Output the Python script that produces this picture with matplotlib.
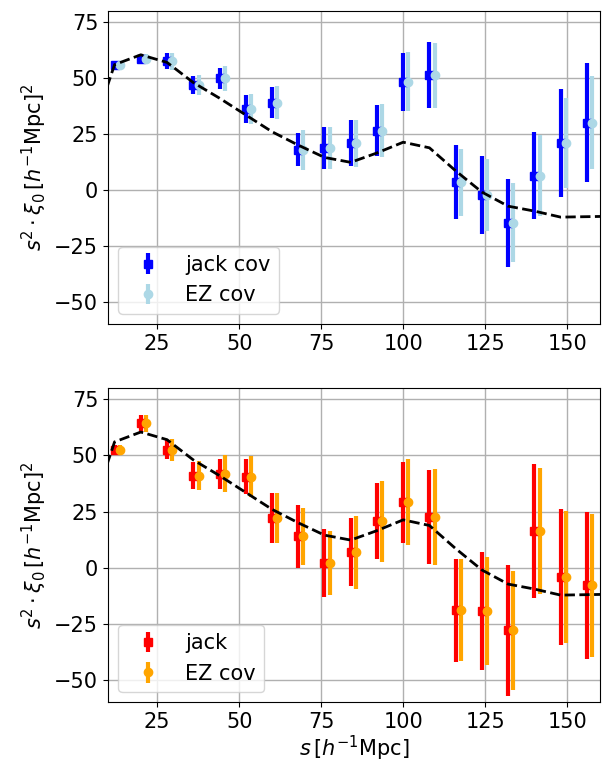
import numpy as np
import matplotlib
matplotlib.use('Agg')
import matplotlib.pyplot as plt

# bin centres
s = np.array([12, 20, 28, 36, 44, 52, 60, 68, 76, 84, 92, 100, 108, 116, 124, 132, 140, 148, 156])

# model curve
s_mod = np.array([4, 12, 20, 28, 36, 44, 52, 60, 68, 76, 84, 92, 100, 108, 116, 124, 132, 140, 148, 156, 164])
xi_mod = np.array([21, 56, 60.4, 57, 48, 41, 33.5, 26, 20, 14.5, 12.3, 16.5, 21.3, 18.8, 8.5, -1, -7.3, -9.5, -12.2, -12, -11.8])

# top panel
xi_top = np.array([56.0, 58.7, 57.5, 46.8, 49.8, 36.0, 39.0, 17.9, 18.7, 20.9, 26.5, 48.3, 51.3, 3.4, -2.4, -14.7, 6.4, 20.9, 30.1])
err_jack_top = np.array([1.5, 2.0, 3.6, 3.9, 4.7, 6.2, 6.9, 7.4, 9.3, 10.3, 11.4, 13.0, 14.7, 16.5, 17.4, 19.6, 19.6, 24.3, 26.5])
err_ez_top = np.array([1.5, 2.2, 3.8, 4.4, 5.6, 6.7, 7.5, 8.9, 9.4, 10.5, 12.0, 13.2, 14.5, 14.9, 16.0, 17.6, 18.3, 20.2, 20.7])

# bottom panel
xi_bot = np.array([52.5, 64.3, 52.5, 41.0, 41.8, 40.6, 22.1, 13.9, 2.1, 6.9, 20.6, 29.2, 22.5, -19.0, -19.3, -27.9, 16.3, -4.2, -7.9])
err_jack_bot = np.array([2.0, 3.7, 4.2, 5.9, 6.7, 7.8, 11.0, 14.0, 15.2, 15.2, 16.9, 18.0, 20.8, 23.0, 26.2, 29.0, 29.8, 30.4, 32.6])
err_ez_bot = np.array([2.0, 3.7, 5.0, 6.5, 8.2, 9.3, 11.0, 12.8, 14.3, 16.3, 17.9, 19.0, 21.3, 22.7, 24.0, 26.5, 28.0, 29.5, 32.0])

shift = 1.6
fs = 15

fig = plt.figure(figsize=(6.05, 7.62), dpi=100)
ax1 = fig.add_axes([0.1785, 0.5748, 0.8132, 0.4108])
ax2 = fig.add_axes([0.1785, 0.0781, 0.8132, 0.4127])

panels = [
    (ax1, xi_top, err_jack_top, err_ez_top, 'blue', 'lightblue', 'jack cov'),
    (ax2, xi_bot, err_jack_bot, err_ez_bot, 'red', 'orange', 'jack'),
]

for ax, xi, ej, ez, c1, c2, lab in panels:
    ax.errorbar(s, xi, yerr=ej, fmt='s', color=c1, ms=6, elinewidth=3, capsize=0, label=lab)
    ax.errorbar(s + shift, xi, yerr=ez, fmt='o', color=c2, ms=6, elinewidth=3, capsize=0, label='EZ cov')
    ax.plot(s_mod, xi_mod, '--', color='k', lw=2, zorder=3)
    ax.set_xlim(10, 160)
    ax.set_ylim(-60, 80)
    ax.set_yticks([-50, -25, 0, 25, 50, 75])
    ax.set_xticks([25, 50, 75, 100, 125, 150])
    ax.grid(True, color='#b0b0b0', lw=1)
    ax.set_axisbelow(True)
    ax.tick_params(labelsize=fs)
    ax.set_ylabel(r'$s^2\cdot\xi_0\,[h^{-1}{\rm Mpc}]^2$', fontsize=fs)
    ax.legend(loc='lower left', fontsize=fs)

ax2.set_xlabel(r'$s\,[h^{-1}{\rm Mpc}]$', fontsize=fs, labelpad=1)

fig.savefig('out.png', dpi=100)
